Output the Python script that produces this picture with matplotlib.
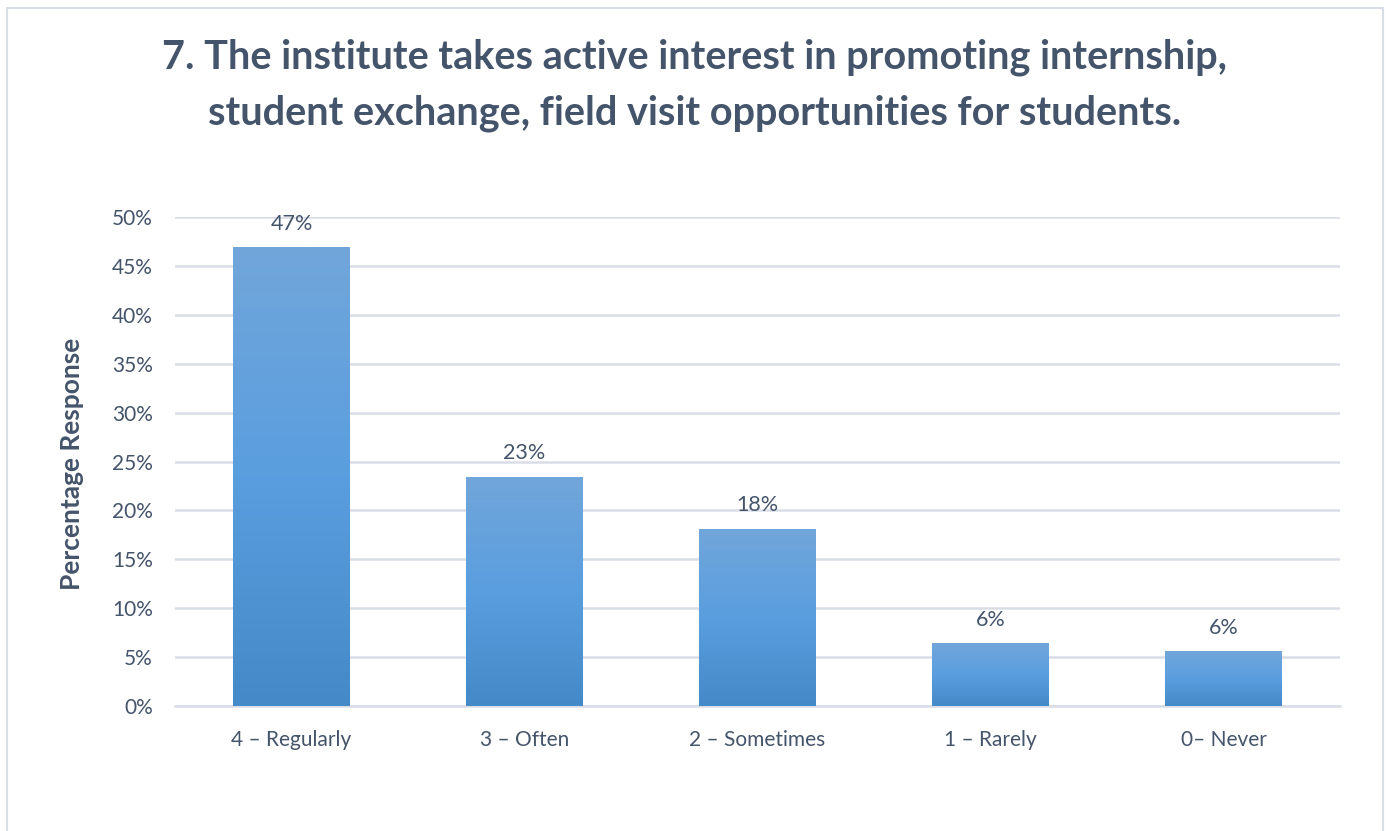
import matplotlib.pyplot as plt
import numpy as np
from matplotlib.colors import LinearSegmentedColormap
from matplotlib.patches import Rectangle

categories = ['4 – Regularly', '3 – Often', '2 – Sometimes', '1 – Rarely', '0– Never']
values = [46.9, 23.4, 18.1, 6.4, 5.6]
labels = ['47%', '23%', '18%', '6%', '6%']
yticks = [0, 5, 10, 15, 20, 25, 30, 35, 40, 45, 50]

text_color = '#44546A'
grid_color = '#D9DEE6'

plt.rcParams['font.family'] = ['Lato', 'DejaVu Sans']

fig = plt.figure(figsize=(13.89, 8.31), dpi=100)
ax = fig.add_axes([175 / 1389, 1 - 706 / 831, (1340 - 175) / 1389, (706 - 217) / 831])

# outer chart border
fig.patches.append(Rectangle((7 / 1389, -0.1), (1383 - 7) / 1389, 1.1 - 8 / 831,
                             transform=fig.transFigure, fill=False,
                             edgecolor='#D9DEE6', linewidth=1.5))

x = np.arange(len(categories))
bars = ax.bar(x, values, width=0.5, color='#5B9BD5', zorder=2)

# vertical gradient on each bar
cmap = LinearSegmentedColormap.from_list('grad', ['#4589C8', '#5A9EDF', '#71A6DA'])
grad = np.linspace(0, 1, 256).reshape(-1, 1)
for b in bars:
    x0, w, h = b.get_x(), b.get_width(), b.get_height()
    im = ax.imshow(grad, cmap=cmap, aspect='auto', origin='lower',
                   extent=[x0, x0 + w, 0, h], zorder=3)
    im.set_clip_path(b)

for xi, v, lab in zip(x, values, labels):
    ax.text(xi, v + 1.4, lab, ha='center', va='bottom', fontsize=15.5, color=text_color)

ax.set_xlim(-0.5, len(categories) - 0.5)
ax.set_ylim(0, 50)
ax.set_yticks(yticks)
ax.set_yticklabels([f'{t}%' for t in yticks])
ax.set_xticks(x)
ax.set_xticklabels(categories)
ax.tick_params(axis='both', length=0, labelsize=15, labelcolor=text_color)
ax.tick_params(axis='x', pad=17)
ax.tick_params(axis='y', pad=16)
ax.grid(axis='y', color=grid_color, linewidth=1.8, zorder=0)
ax.set_axisbelow(True)
for s in ['top', 'right', 'left']:
    ax.spines[s].set_visible(False)
ax.spines['bottom'].set_color(grid_color)
ax.spines['bottom'].set_linewidth(1.8)

fig.text(72 / 1389, 1 - 464 / 831, 'Percentage Response', rotation=90,
         ha='center', va='center', fontsize=19, fontweight='bold', color=text_color)

fig.text(0.5, 1 - 85 / 831,
         '7. The institute takes active interest in promoting internship,\n'
         'student exchange, field visit opportunities for students.',
         ha='center', va='center', fontsize=28.5, fontweight='bold',
         color=text_color, linespacing=1.6)

fig.savefig('out.png', dpi=100)
